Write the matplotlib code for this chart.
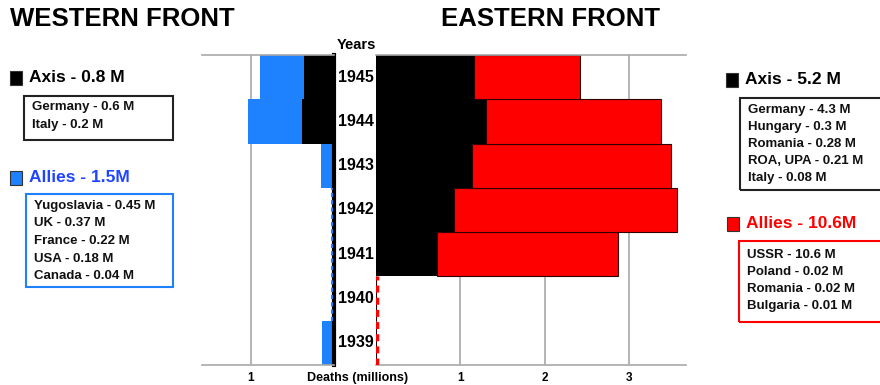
import matplotlib.pyplot as plt
from matplotlib.patches import Rectangle
from matplotlib.transforms import blended_transform_factory

plt.rcParams["font.family"] = ["Liberation Sans", "DejaVu Sans"]

years = ["1939", "1940", "1941", "1942", "1943", "1944", "1945"]

# deaths in millions per year
west_axis = [0, 0, 0, 0, 0, 0.39, 0.36]
west_allies = [0.14, 0, 0, 0, 0.16, 0.64, 0.53]
east_axis = [0, 0, 0.72, 0.92, 1.14, 1.30, 1.16]
east_allies = [0, 0, 2.14, 2.64, 2.35, 2.07, 1.26]

west_axis_title = "Axis - 0.8 M"
west_axis_items = ["Germany - 0.6 M", "Italy - 0.2 M"]
west_allies_title = "Allies - 1.5M"
west_allies_items = ["Yugoslavia - 0.45 M", "UK - 0.37 M", "France - 0.22 M",
                     "USA - 0.18 M", "Canada - 0.04 M"]
east_axis_title = "Axis - 5.2 M"
east_axis_items = ["Germany - 4.3 M", "Hungary - 0.3 M", "Romania - 0.28 M",
                   "ROA, UPA - 0.21 M", "Italy - 0.08 M"]
east_allies_title = "Allies - 10.6M"
east_allies_items = ["USSR - 10.6 M", "Poland - 0.02 M", "Romania - 0.02 M",
                     "Bulgaria - 0.01 M"]

BLACK = "#000000"
BLUE = "#1e82ff"
BLUE_TXT = "#1f45ff"
RED = "#ff0000"
GRID = "#a8a8a8"

W, H = 880, 385
fig = plt.figure(figsize=(W / 100, H / 100), dpi=100)


def fx(x):
    return x / W


def fy(y):
    return 1 - y / H


def px_axes(x0, x1, y0, y1):
    return fig.add_axes([fx(x0), fy(y1), fx(x1) - fx(x0), fy(y0) - fy(y1)])


ypos = list(range(len(years)))

# western front (bars grow to the left)
ax_w = px_axes(202, 334, 55, 365)
ax_w.barh(ypos, west_axis, height=1.0, color=BLACK, zorder=2)
ax_w.barh(ypos, west_allies, left=west_axis, height=1.0, color=BLUE, zorder=2)
ax_w.vlines(0.025, 0.5, 3.5, colors=BLUE, linestyles=(0, (2, 1.5)), lw=1.5, zorder=3)
ax_w.set_xlim(1.59, 0)
ax_w.set_ylim(-0.5, 6.5)
ax_w.set_xticks([1])
ax_w.set_xticklabels(["1"])
ax_w.set_yticks([])
ax_w.grid(axis="x", color=GRID, lw=1.2, zorder=0)
ax_w.set_axisbelow(True)
ax_w.spines["left"].set_visible(False)
ax_w.spines["right"].set_color(BLACK)
ax_w.spines["right"].set_linewidth(3)
for s in ("top", "bottom"):
    ax_w.spines[s].set_color(GRID)
    ax_w.spines[s].set_linewidth(1.2)

# eastern front
ax_e = px_axes(376, 686, 55, 365)
ax_e.barh(ypos, east_axis, height=1.0, color=BLACK, zorder=2)
ax_e.barh(ypos, east_allies, left=east_axis, height=1.0, color=RED,
          edgecolor="#300000", lw=0.8, zorder=2)
ax_e.vlines(0.01, -0.5, 1.5, colors=RED, linestyles=(0, (2, 1.5)), lw=2.5, zorder=3)
ax_e.set_xlim(0, 3.67)
ax_e.set_ylim(-0.5, 6.5)
ax_e.set_xticks([1, 2, 3])
ax_e.set_xticklabels(["1", "2", "3"])
ax_e.set_yticks([])
ax_e.grid(axis="x", color=GRID, lw=1.2, zorder=0)
ax_e.set_axisbelow(True)
for s in ("left", "right"):
    ax_e.spines[s].set_visible(False)
for s in ("top", "bottom"):
    ax_e.spines[s].set_color(GRID)
    ax_e.spines[s].set_linewidth(1.2)

for ax in (ax_w, ax_e):
    ax.tick_params(axis="x", length=0, pad=5)
    for lab in ax.get_xticklabels():
        lab.set_fontsize(8.5)
        lab.set_fontweight("bold")

# year labels between the two panels
tr = blended_transform_factory(fig.transFigure, ax_e.transData)
for i, yr in enumerate(years):
    fig.text(fx(356), i, yr, transform=tr, ha="center", va="center",
             fontsize=11.5, fontweight="bold")
fig.text(fx(356), fy(45), "Years", ha="center", va="center", fontsize=10.5, fontweight="bold")
fig.text(fx(358), fy(378), "Deaths (millions)", ha="center", va="center",
         fontsize=9, fontweight="bold")

# titles
fig.text(fx(122), fy(19), "WESTERN FRONT", ha="center", va="center", fontsize=18.5, fontweight="bold")
fig.text(fx(550), fy(19), "EASTERN FRONT", ha="center", va="center", fontsize=18.5, fontweight="bold")


def legend_group(sq_x, title_y, color, txt_color, title, box, items, line_y0, step, box_color):
    fig.patches.append(Rectangle((fx(sq_x), fy(title_y + 7)), fx(12), 14 / H,
                                 transform=fig.transFigure, facecolor=color,
                                 edgecolor="#333333", lw=0.8))
    fig.text(fx(sq_x + 19), fy(title_y), title, ha="left", va="center",
             fontsize=12.5, fontweight="bold", color=txt_color)
    bx0, by0, bx1, by1 = box
    fig.patches.append(Rectangle((fx(bx0), fy(by1)), fx(bx1 - bx0), (by1 - by0) / H,
                                 transform=fig.transFigure, facecolor="none",
                                 edgecolor=box_color, lw=1.5))
    for k, item in enumerate(items):
        fig.text(fx(bx0 + 8), fy(line_y0 + k * step), item, ha="left", va="center",
                 fontsize=9.5, fontweight="bold", color="#111111")


legend_group(10, 78, BLACK, BLACK, west_axis_title, (24, 96, 173, 140),
             west_axis_items, 107, 18, "#222222")
legend_group(10, 178, BLUE, BLUE_TXT, west_allies_title, (26, 194, 173, 287),
             west_allies_items, 206, 17.5, BLUE)
legend_group(726, 80, BLACK, BLACK, east_axis_title, (740, 98, 890, 190),
             east_axis_items, 110, 17, "#222222")
legend_group(727, 224, RED, RED, east_allies_title, (739, 241, 890, 322),
             east_allies_items, 255, 17, RED)

fig.savefig("out.png", dpi=100)
